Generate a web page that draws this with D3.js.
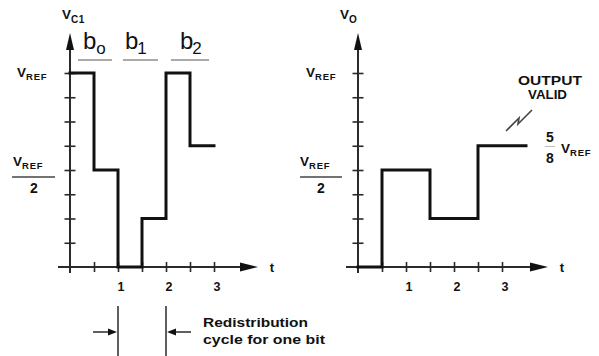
<!DOCTYPE html>
<html>
<head>
<meta charset="utf-8">
<script src="https://cdn.jsdelivr.net/npm/d3@7"></script>
<style>
  html, body { margin: 0; padding: 0; background: #fff; }
  svg { display: block; }
  text { font-family: "Liberation Sans", Arial, Helvetica, sans-serif; }
</style>
</head>
<body>
<svg id="chart" width="599" height="356"></svg>
<script>
// ---- data ----
const xTickValues = [0.5, 1, 1.5, 2, 2.5, 3];
const xTickLabels = ["", "1", "", "2", "", "3"];
const yTickValues = [0.125, 0.25, 0.375, 0.5, 0.625, 0.75, 0.875, 1];
const vc1Times  = [0, 0.5, 1, 1.5, 2, 2.5, 3];
const vc1Values = [1, 0.5, 0, 0.25, 1, 0.625, 0.625];
const voTimes   = [0, 0.5, 1.5, 2.5, 3.5];
const voValues  = [0, 0.5, 0.25, 0.625, 0.625];
const bitLabels = ["o", "1", "2"];
const bitStarts = [0, 1, 2];

const svg = d3.select("#chart");
const ink = "#111";
const axisInk = "#2a2a2a";

const y = d3.scaleLinear().domain([0, 1]).range([267, 73]);

function vref(g, x, yb, len) {
  const t = g.append("text").attr("x", x).attr("y", yb)
    .attr("font-weight", "bold").attr("fill", ink);
  t.append("tspan").attr("font-size", 13.5).text("V");
  t.append("tspan").attr("font-size", 9.5).attr("dy", 3).attr("letter-spacing", 0.8).text("REF");
  return t;
}

function panel(x0, sub, titleX, times, values, arrowEnd) {
  const x = d3.scaleLinear().domain([0, 1]).range([x0, x0 + 48]);
  const g = svg.append("g");

  // x axis line
  g.append("line").attr("x1", x0 - 12).attr("x2", arrowEnd - 14)
    .attr("y1", y(0)).attr("y2", y(0)).attr("stroke", axisInk).attr("stroke-width", 2);
  g.append("path")
    .attr("d", `M${arrowEnd},${y(0)} L${arrowEnd - 18},${y(0) - 4.5} L${arrowEnd - 18},${y(0) + 4.5} Z`)
    .attr("fill", ink);
  g.append("text").attr("x", arrowEnd + 14).attr("y", y(0) + 5)
    .attr("font-weight", "bold").attr("font-size", 13).attr("fill", ink)
    .attr("text-anchor", "middle").text("t");

  // y axis line
  g.append("line").attr("x1", x(0)).attr("x2", x(0))
    .attr("y1", y(0) + 6).attr("y2", 46).attr("stroke", axisInk).attr("stroke-width", 2);
  g.append("path")
    .attr("d", `M${x(0)},${33} L${x(0) - 4},${50} L${x(0) + 4},${50} Z`)
    .attr("fill", ink);

  // axis ticks via d3 axes
  const xAxis = d3.axisBottom(x).tickValues(xTickValues)
    .tickFormat((d, i) => xTickLabels[i]).tickSize(10).tickPadding(10);
  const xa = g.append("g").attr("transform", `translate(0,${y(0) - 5})`).call(xAxis);
  xa.select(".domain").remove();
  xa.selectAll("line").attr("stroke", axisInk).attr("stroke-width", 1.6);
  xa.selectAll("text").attr("font-size", 12.5).attr("font-weight", "bold")
    .attr("fill", ink).attr("font-family", '"Liberation Sans", Arial, sans-serif')
    .attr("dx", 2.5);

  const yAxis = d3.axisLeft(y).tickValues(yTickValues).tickFormat("").tickSize(11);
  const ya = g.append("g").attr("transform", `translate(${x(0) + 5.5},0)`).call(yAxis);
  ya.select(".domain").remove();
  ya.selectAll("line").attr("stroke", axisInk).attr("stroke-width", 1.6);

  // axis title
  const tt = g.append("text").attr("x", titleX).attr("y", 19)
    .attr("font-weight", "bold").attr("fill", ink);
  tt.append("tspan").attr("font-size", 13.5).text("V");
  tt.append("tspan").attr("font-size", 10).attr("dy", 3.5).attr("letter-spacing", 0.6).text(sub);

  // waveform
  const line = d3.line().x(d => x(d[0])).y(d => y(d[1])).curve(d3.curveStepAfter);
  g.append("path").datum(times.map((t, i) => [t, values[i]]))
    .attr("d", line).attr("fill", "none").attr("stroke", ink)
    .attr("stroke-width", 3).attr("stroke-linejoin", "miter").attr("stroke-linecap", "square");

  return { g, x };
}

// left panel
const L = panel(70, "C1", 62, vc1Times, vc1Values, 258);
vref(svg, 17, y(1) + 4);
vref(svg, 13, 166);
svg.append("line").attr("x1", 12).attr("x2", 55).attr("y1", 177).attr("y2", 177)
  .attr("stroke", "#444").attr("stroke-width", 1.4);
svg.append("text").attr("x", 34).attr("y", 193).attr("text-anchor", "middle")
  .attr("font-weight", "bold").attr("font-size", 14).attr("fill", ink).text("2");

// bit labels
bitLabels.forEach((b, i) => {
  const xs = L.x(bitStarts[i]) + [13, 7, 14][i];
  const t = svg.append("text").attr("x", xs).attr("y", 49).attr("fill", ink);
  t.append("tspan").attr("font-size", 24).text("b");
  t.append("tspan").attr("font-size", 17).attr("dy", 5).attr("dx", [0, -1, -1][i]).text(b);
  svg.append("line")
    .attr("x1", L.x(bitStarts[i]) + [8, 5, 5][i]).attr("x2", L.x(bitStarts[i]) + [42, 40, 43][i])
    .attr("y1", 60).attr("y2", 60).attr("stroke", "#aaa").attr("stroke-width", 2);
});

// redistribution annotation
[1, 2].forEach(t => {
  svg.append("line").attr("x1", L.x(t)).attr("x2", L.x(t)).attr("y1", 306).attr("y2", 356)
    .attr("stroke", axisInk).attr("stroke-width", 1.5);
});
svg.append("line").attr("x1", 93).attr("x2", 110).attr("y1", 332).attr("y2", 332)
  .attr("stroke", axisInk).attr("stroke-width", 1.5);
svg.append("path").attr("d", `M${L.x(1) - 1},332 L${L.x(1) - 10},328.5 L${L.x(1) - 10},335.5 Z`).attr("fill", ink);
svg.append("line").attr("x1", L.x(2) + 10).attr("x2", 191).attr("y1", 332).attr("y2", 332)
  .attr("stroke", axisInk).attr("stroke-width", 1.5);
svg.append("path").attr("d", `M${L.x(2) + 1},332 L${L.x(2) + 10},328.5 L${L.x(2) + 10},335.5 Z`).attr("fill", ink);
svg.append("text").attr("x", 203).attr("y", 327).attr("font-weight", "bold")
  .attr("font-size", 13).attr("fill", ink)
  .attr("textLength", 105).attr("lengthAdjust", "spacingAndGlyphs").text("Redistribution");
svg.append("text").attr("x", 203).attr("y", 344).attr("font-weight", "bold")
  .attr("font-size", 13).attr("fill", ink)
  .attr("textLength", 122).attr("lengthAdjust", "spacingAndGlyphs").text("cycle for one bit");

// right panel
const R = panel(358, "O", 340, voTimes, voValues, 548);
vref(svg, 306, y(1) + 4);
vref(svg, 300, 166);
svg.append("line").attr("x1", 300).attr("x2", 342).attr("y1", 177).attr("y2", 177)
  .attr("stroke", "#444").attr("stroke-width", 1.4);
svg.append("text").attr("x", 321).attr("y", 193).attr("text-anchor", "middle")
  .attr("font-weight", "bold").attr("font-size", 14).attr("fill", ink).text("2");

// output valid annotation
svg.append("text").attr("x", 518).attr("y", 85)
  .attr("font-weight", "bold").attr("font-size", 13).attr("fill", ink)
  .attr("textLength", 64).attr("lengthAdjust", "spacingAndGlyphs").text("OUTPUT");
svg.append("text").attr("x", 528).attr("y", 99)
  .attr("font-weight", "bold").attr("font-size", 13).attr("fill", ink)
  .attr("textLength", 39).attr("lengthAdjust", "spacingAndGlyphs").text("VALID");
svg.append("path").attr("d", "M506,131 L519,118 L518,124 L532,110")
  .attr("fill", "none").attr("stroke", "#444").attr("stroke-width", 1.6);

// 5/8 VREF
svg.append("text").attr("x", 550).attr("y", 142).attr("text-anchor", "middle")
  .attr("font-weight", "bold").attr("font-size", 14).attr("fill", ink).text("5");
svg.append("line").attr("x1", 545).attr("x2", 555).attr("y1", 146.5).attr("y2", 146.5)
  .attr("stroke", "#bbb").attr("stroke-width", 1);
svg.append("text").attr("x", 550).attr("y", 163).attr("text-anchor", "middle")
  .attr("font-weight", "bold").attr("font-size", 14).attr("fill", ink).text("8");
vref(svg, 561, 153);
</script>
</body>
</html>
